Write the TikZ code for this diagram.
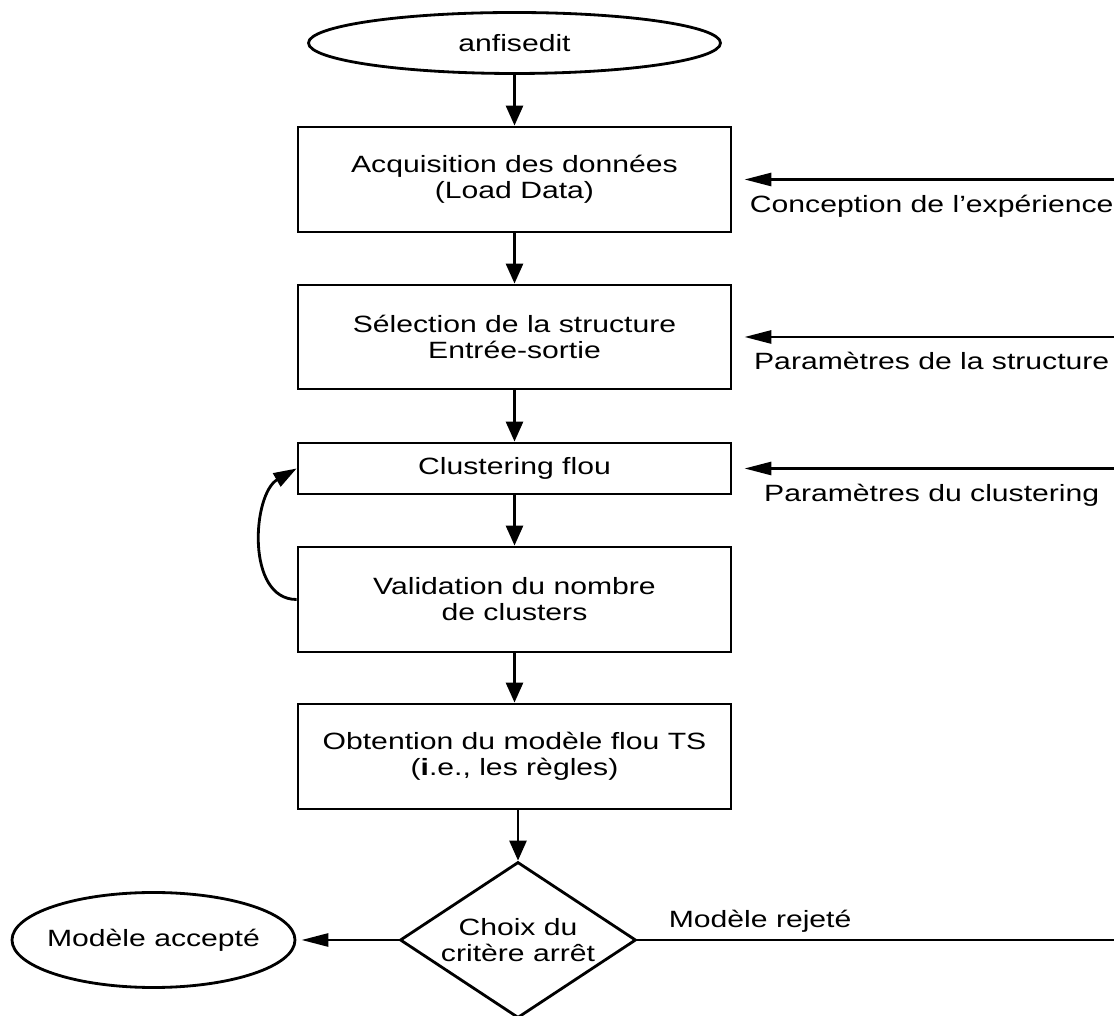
\documentclass[tikz,border=0pt]{standalone}
\usepackage{fontspec}
\setmainfont{Liberation Sans}[FakeStretch=1.28]
\usetikzlibrary{shapes.geometric, arrows.meta}

\tikzset{
    box/.style={draw, rectangle, line width=1.6pt, minimum width=8.66cm, align=center, inner sep=2pt},
    term/.style={draw, ellipse, line width=1.6pt, inner xsep=-0.5cm, inner ysep=0pt},
    choice/.style={draw, diamond, line width=1.6pt, minimum width=4.72cm, minimum height=3.12cm,
        shape aspect=1.5, inner sep=0pt, align=center},
    flow/.style={line width=1.6pt, -{Triangle[length=0.4cm, width=0.34cm]}},
    feed/.style={line width=1.6pt, -{Triangle[length=0.54cm, width=0.26cm]}},
    lbl/.style={anchor=base, yshift=-0.66cm},
}

\begin{document}
\begin{tikzpicture}[font=\fontsize{13.4pt}{14.8pt}\selectfont]

\useasboundingbox (0,0) rectangle (22.28,20.32);

\node[term, minimum width=8.24cm, minimum height=1.22cm] (start) at (10.29,19.46) {anfisedit};

\node[box, minimum height=2.1cm] (acq) at (10.29,16.73)
    {Acquisition des données\\(Load Data)};
\node[box, minimum height=2.08cm] (sel) at (10.29,13.58)
    {Sélection de la structure\\Entrée-sortie};
\node[box, minimum height=1.02cm] (clu) at (10.29,10.95)
    {Clustering flou};
\node[box, minimum height=2.1cm] (val) at (10.29,8.33)
    {Validation du nombre\\de clusters};
\node[box, minimum height=2.1cm] (obt) at (10.29,5.19)
    {Obtention du modèle flou TS\\(\textbf{i}.e., les règles)};

\node[choice] (dec) at (10.36,1.52) {Choix du\\critère arrêt};
\node[term, minimum width=5.66cm, minimum height=1.9cm] (acc) at (3.07,1.52) {Modèle accepté};

% inputs coming from the right
\coordinate (in1) at (22.62,16.73);
\coordinate (in2) at (22.62,13.58);
\coordinate (in3) at (22.62,10.95);
\coordinate (rej) at (22.62,1.52);

\draw[flow] (start) -- (acq);
\draw[flow] (acq) -- (sel);
\draw[flow] (sel) -- (clu);
\draw[flow] (clu) -- (val);
\draw[flow] (val) -- (obt);
\draw[flow] (obt.south -| dec.north) -- (dec.north);

\draw[line width=1.6pt, -{Triangle[length=0.46cm, width=0.3cm]}]
    (val.west) to[out=180, in=210] (clu.west);

\draw[feed, shorten >=0.24cm] (in1) -- node[lbl] {Conception de l’expérience} (acq.east);
\draw[feed, shorten >=0.24cm] (in2) -- node[lbl] {Paramètres de la structure} (sel.east);
\draw[feed, shorten >=0.24cm] (in3) -- node[lbl] {Paramètres du clustering} (clu.east);

\draw[feed, shorten >=0.1cm] (dec.west) -- (acc.east);
\draw[line width=1.6pt] (dec.east) -- node[pos=0, anchor=base west, inner sep=0pt,
    xshift=0.6cm, yshift=0.24cm] {Modèle rejeté} (rej);

\end{tikzpicture}
\end{document}
